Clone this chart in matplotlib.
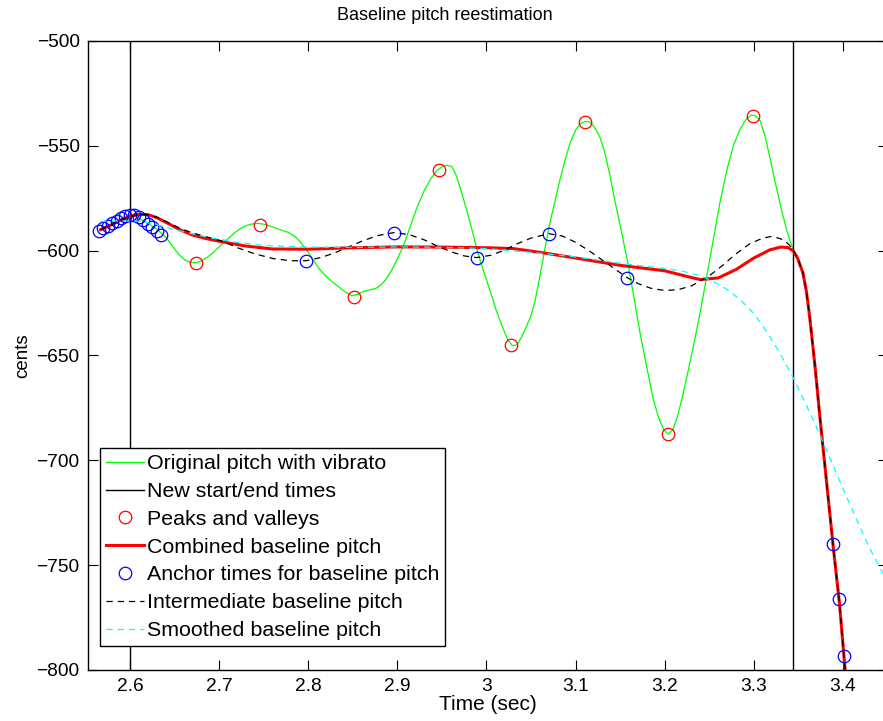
import matplotlib
matplotlib.use("Agg")
import matplotlib.pyplot as plt

plt.rcParams['font.family'] = ['Liberation Sans', 'DejaVu Sans']

# ---- data ----
orig_t = [2.600, 2.605, 2.610, 2.615, 2.620, 2.625, 2.630, 2.635, 2.641, 2.648,
          2.656, 2.662, 2.668, 2.674, 2.680, 2.688, 2.695, 2.703, 2.712, 2.720,
          2.728, 2.736, 2.744, 2.752, 2.760, 2.770, 2.778, 2.786, 2.792, 2.798,
          2.805, 2.813, 2.822, 2.832, 2.841, 2.849, 2.856, 2.863, 2.870, 2.876,
          2.882, 2.888, 2.894, 2.900, 2.907, 2.914, 2.922, 2.930, 2.937, 2.944,
          2.950, 2.955, 2.961, 2.966, 2.972, 2.978, 2.984, 2.990, 2.997, 3.004,
          3.011, 3.019, 3.024, 3.029, 3.034, 3.039, 3.045, 3.050, 3.055, 3.060,
          3.065, 3.070, 3.076, 3.082, 3.088, 3.094, 3.100, 3.105, 3.111, 3.116,
          3.121, 3.127, 3.132, 3.138, 3.144, 3.151, 3.158, 3.165, 3.172, 3.180,
          3.187, 3.193, 3.199, 3.204, 3.209, 3.214, 3.220, 3.226, 3.232, 3.240,
          3.247, 3.254, 3.262, 3.270, 3.277, 3.284, 3.291, 3.297, 3.302, 3.307,
          3.312, 3.318, 3.324, 3.331, 3.337, 3.344]
orig_v = [-583.0, -583.5, -584.5, -585.7, -587.0, -588.3, -589.7, -591.5, -594.0, -598.0,
          -602.3, -604.5, -605.6, -605.8, -605.0, -602.8, -600.3, -597.0, -593.5, -590.6,
          -588.5, -587.3, -587.0, -587.5, -588.7, -590.2, -591.3, -593.5, -596.3, -599.5,
          -604.0, -609.0, -613.0, -616.5, -619.5, -621.5, -620.8, -619.3, -618.6, -618.0,
          -616.2, -613.3, -609.0, -604.0, -597.5, -589.0, -579.5, -571.5, -566.0, -562.0,
          -560.0, -559.3, -559.8, -564.0, -572.0, -581.0, -590.5, -600.5, -610.0, -619.0,
          -628.5, -637.5, -642.5, -645.3, -645.0, -641.5, -636.0, -631.0, -623.0, -612.0,
          -600.5, -589.0, -578.0, -567.0, -557.0, -548.5, -542.5, -539.5, -538.3, -538.6,
          -541.0, -545.5, -552.0, -563.0, -576.0, -590.0, -604.5, -621.0, -638.5, -656.0,
          -670.5, -679.5, -685.5, -687.5, -685.5, -679.5, -669.5, -658.0, -646.0, -629.0,
          -612.5, -596.0, -577.0, -561.0, -550.0, -542.5, -537.5, -535.3, -535.7, -538.0,
          -544.5, -555.5, -567.5, -580.5, -590.5, -599.5]

start_end_times = [2.6, 3.344]

peak_t = [2.674, 2.746, 2.851, 2.947, 3.028, 3.111, 3.204, 3.299]
peak_v = [-605.7, -587.6, -621.9, -561.4, -645.2, -538.6, -687.6, -535.7]

comb_t = [2.567, 2.580, 2.590, 2.600, 2.610, 2.620, 2.630, 2.645, 2.656, 2.670,
          2.685, 2.700, 2.730, 2.760, 2.800, 2.850, 2.900, 2.950, 3.000, 3.030,
          3.060, 3.100, 3.150, 3.200, 3.225, 3.240, 3.260, 3.280, 3.300, 3.318,
          3.330, 3.338, 3.344, 3.349, 3.355, 3.359, 3.363, 3.369, 3.374, 3.389,
          3.396, 3.403]
comb_v = [-590.0, -587.5, -585.3, -583.6, -582.7, -582.8, -584.2, -587.5, -590.0, -592.5,
          -594.2, -595.5, -597.8, -599.2, -599.3, -598.6, -598.2, -598.3, -598.6, -599.0,
          -600.8, -603.5, -607.0, -609.6, -612.3, -613.8, -613.0, -609.0, -603.5, -599.6,
          -598.3, -598.5, -600.0, -603.5, -610.5, -619.5, -632.9, -656.7, -679.0, -741.0,
          -768.0, -803.0]

anchor_t = [2.565, 2.570, 2.575, 2.580, 2.585, 2.590, 2.595, 2.600, 2.605, 2.610,
            2.615, 2.620, 2.625, 2.630, 2.635,
            2.7975, 2.896, 2.989, 3.070, 3.158, 3.389, 3.396, 3.401]
anchor_v = [-590.5, -589.4, -588.2, -587.0, -585.7, -584.5, -583.4, -582.8, -583.0, -584.0,
            -585.5, -587.1, -588.8, -590.5, -592.5,
            -604.8, -591.4, -603.3, -591.9, -612.9, -740.0, -766.2, -793.3]

inter_t = [2.567, 2.580, 2.590, 2.600, 2.610, 2.620, 2.630, 2.645, 2.656, 2.670,
           2.685, 2.704, 2.720, 2.740, 2.761, 2.780, 2.7975, 2.815, 2.830, 2.845,
           2.860, 2.878, 2.896, 2.913, 2.930, 2.945, 2.960, 2.975, 2.989, 3.005,
           3.020, 3.035, 3.050, 3.070, 3.085, 3.100, 3.115, 3.130, 3.145, 3.158,
           3.170, 3.185, 3.200, 3.215, 3.230, 3.250, 3.265, 3.280, 3.295, 3.310,
           3.320, 3.330, 3.338, 3.344, 3.349, 3.355, 3.359, 3.363, 3.369, 3.374,
           3.389, 3.396, 3.403]
inter_v = [-590.0, -587.5, -585.3, -583.6, -582.7, -582.8, -584.0, -587.0, -589.3, -591.5,
           -593.3, -595.5, -598.5, -601.5, -603.8, -604.8, -604.8, -603.2, -601.0, -598.3,
           -595.5, -592.8, -591.4, -592.3, -594.8, -597.8, -600.5, -602.5, -603.3, -602.2,
           -599.8, -596.6, -594.0, -591.9, -593.0, -596.0, -600.0, -604.5, -609.0, -612.9,
           -615.7, -618.0, -619.0, -618.6, -616.8, -612.0, -607.0, -601.5, -596.8, -594.0,
           -593.2, -594.3, -596.5, -599.5, -603.5, -610.5, -619.5, -632.9, -656.7, -679.0,
           -741.0, -768.0, -803.0]

smooth_t = [2.567, 2.590, 2.610, 2.625, 2.640, 2.660, 2.690, 2.720, 2.750, 2.800,
            2.850, 2.900, 2.950, 3.000, 3.050, 3.100, 3.150, 3.200, 3.220, 3.240,
            3.255, 3.270, 3.285, 3.300, 3.315, 3.330, 3.344, 3.357, 3.370, 3.385,
            3.400, 3.415, 3.430, 3.445]
smooth_v = [-586.0, -585.8, -586.0, -587.0, -588.8, -591.0, -593.8, -596.0, -597.5, -598.3,
            -598.4, -598.2, -598.4, -599.0, -600.8, -603.0, -606.0, -608.5, -609.8, -612.0,
            -614.8, -618.5, -623.5, -630.0, -639.0, -649.5, -660.5, -672.0, -684.0, -698.5,
            -713.5, -728.0, -742.0, -754.0]

x_ticks = [2.6, 2.7, 2.8, 2.9, 3.0, 3.1, 3.2, 3.3, 3.4]
x_tick_labels = ['2.6', '2.7', '2.8', '2.9', '3', '3.1', '3.2', '3.3', '3.4']
y_ticks = [-800, -750, -700, -650, -600, -550, -500]

# ---- figure ----
fig = plt.figure(figsize=(8.83, 7.21), dpi=100)
ax = fig.add_axes([88/883, 51/721, 800/883, 629/721])

ax.plot(orig_t, orig_v, color='#00ff00', lw=0.9, label='Original pitch with vibrato')
for i, t in enumerate(start_end_times):
    ax.axvline(t, color='black', lw=1.0,
               label='New start/end times' if i == 0 else '_nolegend_')
ax.plot(peak_t, peak_v, linestyle='none', marker='o', mfc='none', mec='red',
        ms=9, mew=0.9, label='Peaks and valleys')
ax.plot(comb_t, comb_v, color='red', lw=2.2, label='Combined baseline pitch')
ax.plot(anchor_t, anchor_v, linestyle='none', marker='o', mfc='none', mec='blue',
        ms=9, mew=0.9, label='Anchor times for baseline pitch')
ax.plot(inter_t, inter_v, color='black', lw=0.9, dashes=(5, 4),
        label='Intermediate baseline pitch')
ax.plot(smooth_t, smooth_v, color='cyan', lw=0.9, dashes=(5, 4),
        label='Smoothed baseline pitch')

ax.set_xlim(2.5530, 3.4505)
ax.set_ylim(-800, -500)
ax.set_xticks(x_ticks)
ax.set_xticklabels(x_tick_labels)
ax.set_yticks(y_ticks)
ax.tick_params(direction='in', top=True, right=True, length=7, width=0.8,
               labelsize=13.8, pad=6)
for s in ax.spines.values():
    s.set_linewidth(1.0)

ax.set_xlabel('Time (sec)', fontsize=15, labelpad=0)
ax.set_ylabel('cents', fontsize=13.5, labelpad=4)
fig.text(444.5/883, 1 - 15/721, 'Baseline pitch reestimation', fontsize=13,
         ha='center', va='center')

leg = ax.legend(loc='lower left', bbox_to_anchor=(12/800, 24/629), borderaxespad=0,
                fontsize=15.4, frameon=True, fancybox=False, handlelength=1.8,
                handletextpad=0.12, labelspacing=0.41, borderpad=0.28)
leg.get_frame().set_edgecolor('black')
leg.get_frame().set_linewidth(1.0)
leg.get_frame().set_alpha(1)

fig.savefig('out.png', dpi=100)
